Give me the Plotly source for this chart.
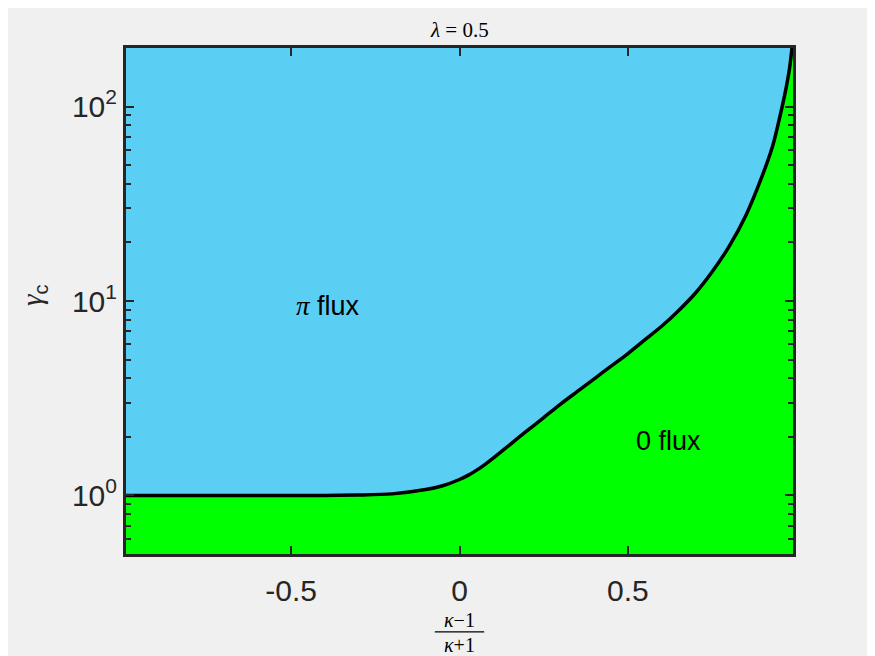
import numpy as np
import plotly.graph_objects as go

# Phase boundary gamma_c vs (kappa-1)/(kappa+1), lambda = 0.5
x_vals = [-0.99, -0.6, -0.4, -0.3, -0.2, -0.1, -0.05, 0.0, 0.025, 0.05,
          0.075, 0.1, 0.15, 0.2, 0.25, 0.3, 0.35, 0.4, 0.45, 0.5, 0.55,
          0.6, 0.65, 0.7, 0.75, 0.8, 0.85, 0.9, 0.93, 0.95, 0.97, 0.98,
          0.985, 0.99]
gamma_c = [1.0, 1.0, 1.0, 1.005, 1.019, 1.072, 1.122, 1.208, 1.268, 1.346,
           1.442, 1.556, 1.828, 2.148, 2.512, 2.951, 3.428, 3.981, 4.624,
           5.370, 6.310, 7.413, 8.913, 10.96, 14.13, 19.05, 27.54, 44.67,
           63.1, 87.1, 125.9, 158.5, 186.2, 223.9]

x_range = [-0.99, 0.99]
y_range = [0.5, 200]

x_ticks = [-0.5, 0, 0.5]
x_ticktext = ["-0.5", "0", "0.5"]
y_ticks = [1, 10, 100]
y_ticktext = ["10<sup>0</sup>", "10<sup>1</sup>", "10<sup>2</sup>"]
y_minor = [0.6, 0.7, 0.8, 0.9, 2, 3, 4, 5, 6, 7, 8, 9,
           20, 30, 40, 50, 60, 70, 80, 90, 200]

CYAN = "#5bcef4"
GREEN = "#00ff00"
INK = "#262626"
SERIF = "Liberation Serif, DejaVu Serif, serif"
SANS = "Liberation Sans, Arial, sans-serif"

fig = go.Figure()
# baseline at bottom of axis so the green region fills up to the curve
fig.add_trace(go.Scatter(
    x=x_range, y=[y_range[0], y_range[0]],
    mode="lines", line=dict(width=0), hoverinfo="skip", showlegend=False,
))
fig.add_trace(go.Scatter(
    x=x_vals, y=gamma_c,
    mode="lines", line=dict(color="black", width=3.5, shape="spline", smoothing=0.8),
    fill="tonexty", fillcolor=GREEN, showlegend=False,
))

fig.add_annotation(x=-0.39, y=np.log10(9.4), xref="x", yref="y",
                   text="<span style='font-family:Liberation Serif'><i>π</i></span> flux",
                   showarrow=False, font=dict(size=27, color="black", family=SANS))
fig.add_annotation(x=0.62, y=np.log10(1.9), xref="x", yref="y",
                   text="0 flux", showarrow=False,
                   font=dict(size=27, color="black", family=SANS))

# title and axis labels
fig.add_annotation(x=0.5, y=1.0, xref="paper", yref="paper", yanchor="middle",
                   yshift=18, text="<i>λ</i> = 0.5", showarrow=False,
                   font=dict(size=21, color="black", family=SERIF))
fig.add_annotation(x=0.5, y=0, xref="paper", yref="paper", yanchor="middle",
                   yshift=-66, text="<i>κ</i>−1", showarrow=False,
                   font=dict(size=20, color="black", family=SERIF))
fig.add_annotation(x=0.5, y=0, xref="paper", yref="paper", yanchor="middle",
                   yshift=-91, text="<i>κ</i>+1", showarrow=False,
                   font=dict(size=20, color="black", family=SERIF))
fig.add_shape(type="line", xref="paper", yref="paper",
              x0=0.5 - 0.037, x1=0.5 + 0.037, y0=-0.154, y1=-0.154,
              line=dict(color="black", width=1.2))
fig.add_annotation(x=0, y=0.5, xref="paper", yref="paper", xanchor="center",
                   xshift=-92, yshift=6,
                   text="<span style='font-family:Liberation Serif'><i>γ</i></span><sub>c</sub>",
                   textangle=-90, showarrow=False,
                   font=dict(size=29, color=INK, family=SANS))

# the page has an 8px body margin; the figure runs past the window edge
fig.update_layout(
    width=875, height=656,
    paper_bgcolor="#f0f0f0", plot_bgcolor=CYAN,
    margin=dict(l=118, r=90, t=40, b=110),
    font=dict(family=SANS, color=INK),
    xaxis=dict(
        range=x_range, tickvals=x_ticks, ticktext=x_ticktext,
        ticks="inside", ticklen=8, tickwidth=2, tickcolor=INK,
        showline=True, linecolor=INK, linewidth=3, mirror="ticks",
        showgrid=False, zeroline=False, tickfont=dict(size=30, color=INK),
        ticklabelstandoff=8,
    ),
    yaxis=dict(
        type="log", range=[np.log10(y_range[0]), np.log10(y_range[1])],
        tickvals=y_ticks, ticktext=y_ticktext,
        ticks="inside", ticklen=8, tickwidth=2, tickcolor=INK,
        minor=dict(tickmode="array", tickvals=y_minor, ticks="inside",
                   ticklen=5, tickwidth=1.5, tickcolor=INK, showgrid=False),
        showline=True, linecolor=INK, linewidth=3, mirror="ticks",
        showgrid=False, zeroline=False, tickfont=dict(size=30, color=INK),
    ),
)

fig.write_html("out.html")
